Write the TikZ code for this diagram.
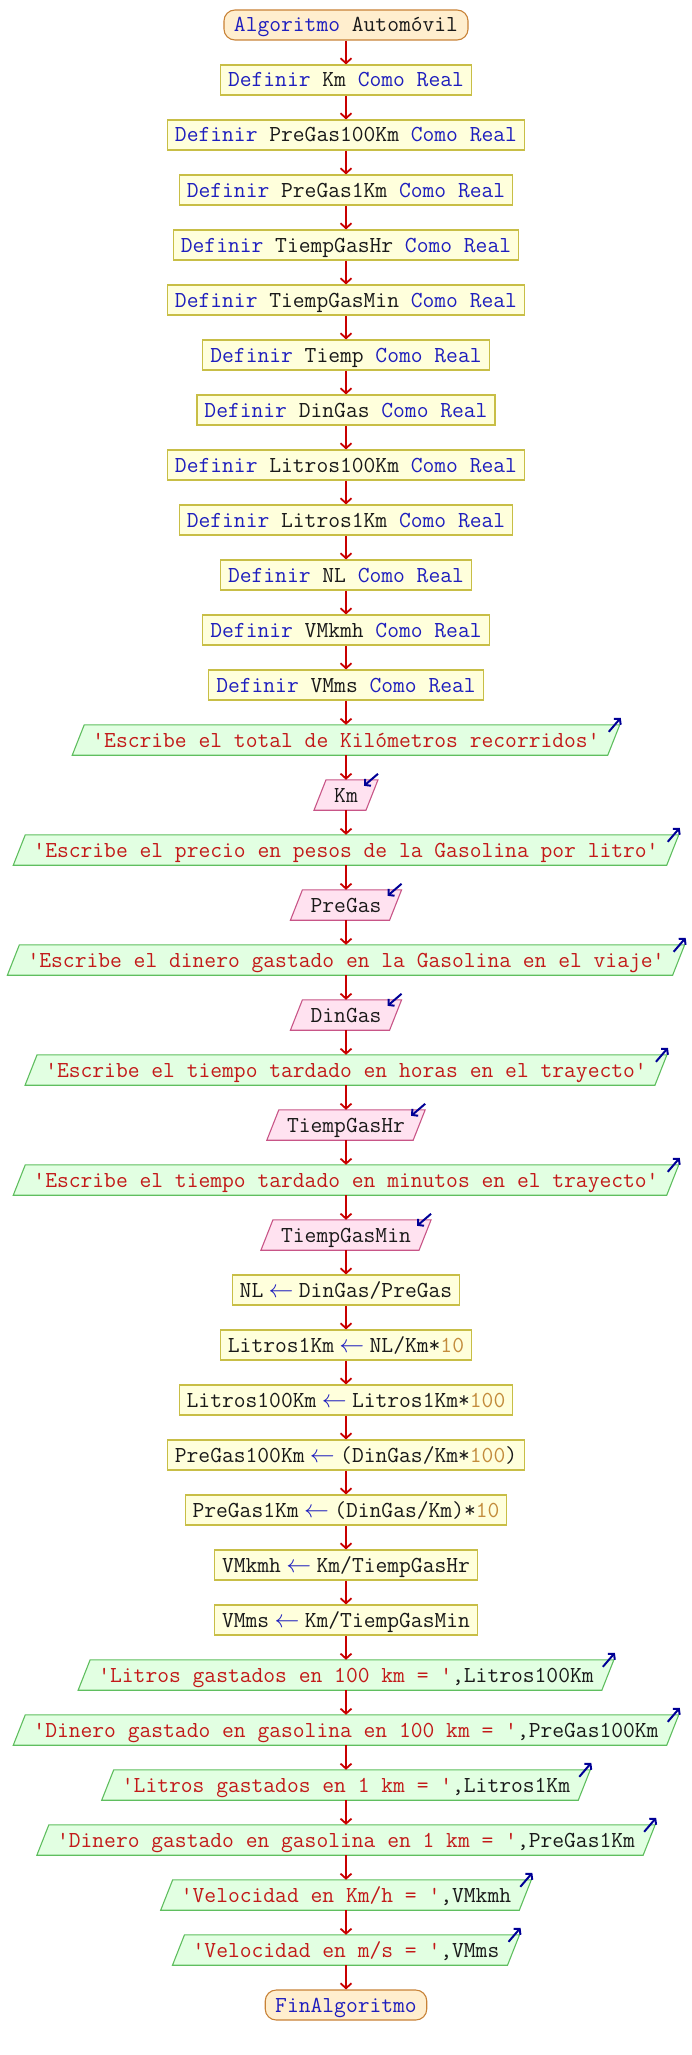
\documentclass[tikz,border=0pt]{standalone}
\usepackage{fontspec}
\usetikzlibrary{calc,arrows.meta,backgrounds}
\definecolor{kwblue}{RGB}{30,30,190}
\definecolor{strred}{RGB}{195,25,25}
\definecolor{numcol}{RGB}{195,140,60}
\definecolor{txtblk}{RGB}{25,25,25}
\definecolor{termf}{RGB}{255,238,206}
\definecolor{termb}{RGB}{200,130,55}
\definecolor{procf}{RGB}{255,255,220}
\definecolor{procb}{RGB}{200,190,70}
\definecolor{outf}{RGB}{226,255,226}
\definecolor{outb}{RGB}{95,190,95}
\definecolor{inf}{RGB}{255,226,240}
\definecolor{inb}{RGB}{200,85,135}
\definecolor{flowred}{RGB}{200,0,0}
\definecolor{navyarr}{RGB}{0,0,150}
\newcommand\kw[1]{\textcolor{kwblue}{#1}}
\newcommand\st[1]{\textcolor{strred}{#1}}
\newcommand\nm[1]{\textcolor{numcol}{#1}}
\newcommand\asg{\makebox[0.525em]{\textcolor{kwblue}{$\leftarrow$}}}
\newcommand\defl[1]{\kw{Definir} #1 \kw{Como Real}}
\tikzset{
  base/.style={font=\fontsize{22.9pt}{26pt}\selectfont\ttfamily, text=txtblk,
    text height=14pt, text depth=0pt, inner ysep=0pt, minimum height=30},
  term/.style={base, draw=termb, fill=termf, line width=1.1pt, rounded corners=11, inner xsep=10},
  proc/.style={base, draw=procb, fill=procf, line width=1.1pt, inner xsep=7.5},
  iot/.style={base, inner xsep=14},
  outsh/.style={draw=outb, fill=outf, line width=1.1pt},
  insh/.style={draw=inb, fill=inf, line width=1.1pt},
  flow/.style={draw=flowred, line width=1.8pt, -{Straight Barb[length=5pt,width=11pt,line width=1.8pt]}},
  ioarrow/.style={draw=navyarr, line width=2pt, -{Straight Barb[length=4pt,width=9pt,line width=2pt]}}
}
\newcommand\outbox[3]{%
  \node[iot] (#1) at (346,#2) {#3};
  \begin{scope}[on background layer]
    \draw[outsh] ($(#1.north west)+(6,0)$) -- ($(#1.north east)+(6,0)$) -- ($(#1.south east)+(-6,0)$) -- ($(#1.south west)+(-6,0)$) -- cycle;
  \end{scope}
  \draw[ioarrow] ($(#1.north east)+(-5,7)$) -- ($(#1.north east)+(7,-7)$);
}
\newcommand\inbox[3]{%
  \node[iot] (#1) at (346,#2) {#3};
  \begin{scope}[on background layer]
    \draw[insh] ($(#1.north west)+(6,0)$) -- ($(#1.north east)+(6,0)$) -- ($(#1.south east)+(-6,0)$) -- ($(#1.south west)+(-6,0)$) -- cycle;
  \end{scope}
  \draw[ioarrow] ($(#1.north east)+(6,-6)$) -- ($(#1.north east)+(-8,6)$);
}
\begin{document}
\begin{tikzpicture}[x=1pt,y=-1pt]
\useasboundingbox (0,0) rectangle (692,2055);
\node[term] (n0) at (346,25) {\kw{Algoritmo} Automóvil};
\node[proc] (n1) at (346,80) {\defl{Km}};
\node[proc] (n2) at (346,135) {\defl{PreGas100Km}};
\node[proc] (n3) at (346,190) {\defl{PreGas1Km}};
\node[proc] (n4) at (346,245) {\defl{TiempGasHr}};
\node[proc] (n5) at (346,300) {\defl{TiempGasMin}};
\node[proc] (n6) at (346,355) {\defl{Tiemp}};
\node[proc] (n7) at (346,410) {\defl{DinGas}};
\node[proc] (n8) at (346,465) {\defl{Litros100Km}};
\node[proc] (n9) at (346,520) {\defl{Litros1Km}};
\node[proc] (n10) at (346,575) {\defl{NL}};
\node[proc] (n11) at (346,630) {\defl{VMkmh}};
\node[proc] (n12) at (346,685) {\defl{VMms}};
\outbox{n13}{740}{\st{'Escribe el total de Kilómetros recorridos'}}
\inbox{n14}{795}{Km}
\outbox{n15}{850}{\st{'Escribe el precio en pesos de la Gasolina por litro'}}
\inbox{n16}{905}{PreGas}
\outbox{n17}{960}{\st{'Escribe el dinero gastado en la Gasolina en el viaje'}}
\inbox{n18}{1015}{DinGas}
\outbox{n19}{1070}{\st{'Escribe el tiempo tardado en horas en el trayecto'}}
\inbox{n20}{1125}{TiempGasHr}
\outbox{n21}{1180}{\st{'Escribe el tiempo tardado en minutos en el trayecto'}}
\inbox{n22}{1235}{TiempGasMin}
\node[proc] (n23) at (346,1290) {NL \asg{} DinGas/PreGas};
\node[proc] (n24) at (346,1345) {Litros1Km \asg{} NL/Km*\nm{10}};
\node[proc] (n25) at (346,1400) {Litros100Km \asg{} Litros1Km*\nm{100}};
\node[proc] (n26) at (346,1455) {PreGas100Km \asg{} (DinGas/Km*\nm{100})};
\node[proc] (n27) at (346,1510) {PreGas1Km \asg{} (DinGas/Km)*\nm{10}};
\node[proc] (n28) at (346,1565) {VMkmh \asg{} Km/TiempGasHr};
\node[proc] (n29) at (346,1620) {VMms \asg{} Km/TiempGasMin};
\outbox{n30}{1675}{\st{'Litros gastados en 100 km = '},Litros100Km}
\outbox{n31}{1730}{\st{'Dinero gastado en gasolina en 100 km = '},PreGas100Km}
\outbox{n32}{1785}{\st{'Litros gastados en 1 km = '},Litros1Km}
\outbox{n33}{1840}{\st{'Dinero gastado en gasolina en 1 km = '},PreGas1Km}
\outbox{n34}{1895}{\st{'Velocidad en Km/h = '},VMkmh}
\outbox{n35}{1950}{\st{'Velocidad en m/s = '},VMms}
\node[term] (n36) at (346,2005) {\kw{FinAlgoritmo}};
\foreach \i in {0,...,35}{
  \pgfmathtruncatemacro{\j}{\i+1}
  \draw[flow] (n\i.south) -- (n\j.north);
}
\end{tikzpicture}
\end{document}
